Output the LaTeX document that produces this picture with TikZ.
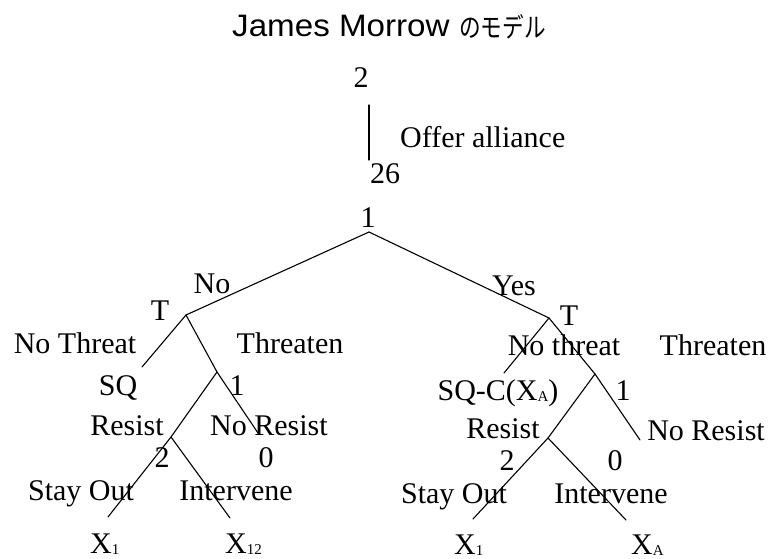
\documentclass[tikz,border=0pt]{standalone}
\usepackage{fontspec}
\usepackage{graphicx}
\setmainfont{Liberation Serif}
\newfontfamily\titlefont{Liberation Sans}
\newfontfamily\jpfont{Noto Sans CJK JP}
\newcommand{\subx}[1]{\raisebox{-1.5pt}{\fontsize{15}{15}\selectfont #1}}
\begin{document}
\begin{tikzpicture}[x=1pt,y=-1pt,
  lbl/.style={inner sep=0pt,anchor=base,font=\fontsize{30}{34}\selectfont},
  lblw/.style={inner sep=0pt,anchor=base west,font=\fontsize{30}{34}\selectfont},
  branch/.style={line width=1.1pt,line cap=round}]
\useasboundingbox (0,0) rectangle (771,559);
% title
\node[inner sep=0pt,anchor=base west] (t1) at (232,37) {\titlefont\fontsize{31}{33}\selectfont\scalebox{1.07}[1]{James Morrow}};
\node[inner sep=0pt,anchor=base west] (t2) at (459,38) {\jpfont\fontsize{27}{30}\selectfont\scalebox{0.8}[1]{のモデル}};
% branch points
\coordinate (va) at (369,105);
\coordinate (vb) at (369,160);
\coordinate (root) at (369,232);
\coordinate (tL) at (186,315);
\coordinate (tR) at (549,318);
\coordinate (sqL) at (142,367);
\coordinate (n1L) at (217,372);
\coordinate (rL) at (171,437);
\coordinate (nrL) at (258,433);
\coordinate (soL) at (108,517);
\coordinate (inL) at (230,518);
\coordinate (sqR) at (504,373);
\coordinate (n1R) at (595,374);
\coordinate (rR) at (548,438);
\coordinate (nrR) at (640,440);
\coordinate (soR) at (473,519);
\coordinate (inR) at (626,520);
% edges
\draw[branch] (va) -- (vb);
\draw[branch] (root) -- (tL);
\draw[branch] (root) -- (tR);
\draw[branch] (tL) -- (sqL);
\draw[branch] (tL) -- (n1L);
\draw[branch] (n1L) -- (rL);
\draw[branch] (n1L) -- (nrL);
\draw[branch] (rL) -- (soL);
\draw[branch] (rL) -- (inL);
\draw[branch] (tR) -- (sqR);
\draw[branch] (tR) -- (n1R);
\draw[branch] (n1R) -- (rR);
\draw[branch] (n1R) -- (nrR);
\draw[branch] (rR) -- (soR);
\draw[branch] (rR) -- (inR);
% labels
\node[lbl] (p2) at (361,88) {2};
\node[lblw] (offer) at (400,147) {Offer alliance};
\node[lbl] (p26) at (385,183) {26};
\node[lbl] (p1) at (368,227) {1};
\node[lbl] (no) at (212,293) {No};
\node[lbl] (TL) at (160,320) {T};
\node[lbl] (yes) at (514,295) {Yes};
\node[lbl] (TR) at (569,325) {T};
\node[lbl] (ntL) at (75,353) {No Threat};
\node[lbl] (thL) at (290,353) {Threaten};
\node[lbl] (sq) at (118,395) {SQ};
\node[lbl] (oneL) at (237,395) {1};
\node[lbl] (resL) at (127,435) {Resist};
\node[lbl] (nresL) at (269,435) {No Resist};
\node[lbl] (twoL) at (162,467) {2};
\node[lbl] (zeroL) at (266,467) {0};
\node[lbl] (stayL) at (81,500) {Stay Out};
\node[lbl] (intL) at (236,500) {Intervene};
\node[lblw] (x1L) at (90,553) {X\subx{1}};
\node[lblw] (x12) at (225,553) {X\subx{12}};
\node[lbl] (ntR) at (564,355) {No threat};
\node[lbl] (thR) at (713,355) {Threaten};
\node[lbl] (sqc) at (498,400) {SQ-C(X\subx{A})};
\node[lbl] (oneR) at (623,400) {1};
\node[lbl] (resR) at (503,438) {Resist};
\node[lbl] (nresR) at (706,440) {No Resist};
\node[lbl] (twoR) at (507,470) {2};
\node[lbl] (zeroR) at (615,470) {0};
\node[lbl] (stayR) at (454,503) {Stay Out};
\node[lbl] (intR) at (611,503) {Intervene};
\node[lblw] (x1R) at (454,554) {X\subx{1}};
\node[lblw] (xA) at (631,554) {X\subx{A}};
\end{tikzpicture}
\end{document}
